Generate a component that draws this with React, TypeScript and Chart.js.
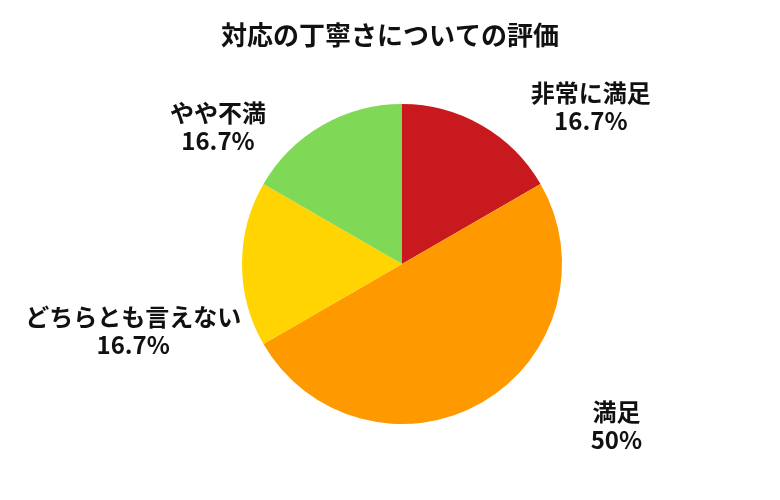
import { useEffect, useRef } from "react";
import { Chart, ArcElement, PieController, Tooltip } from "chart.js";
import type { Plugin } from "chart.js";

Chart.register(ArcElement, PieController, Tooltip);

// データ
const chartTitle = "対応の丁寧さについての評価";
const categories = ["非常に満足", "満足", "どちらとも言えない", "やや不満"];
const responses = [1, 3, 1, 1];
const sliceColors = ["#C8191F", "#FF9900", "#FFD400", "#7FD957"];

// ラベルの位置（円の中心からの相対値、半径単位）
const labelAnchors: [number, number][] = [
  [1.18, -0.98],
  [1.34, 1.01],
  [-1.68, 0.42],
  [-1.15, -0.86],
];

const FONT = '"Noto Sans CJK JP", "Noto Sans", sans-serif';

function formatPercent(v: number, total: number) {
  const p = (v / total) * 100;
  const s = p.toFixed(1);
  return (s.endsWith(".0") ? s.slice(0, -2) : s) + "%";
}

// タイトルと外側ラベルを描画
const outerLabels: Plugin<"pie"> = {
  id: "outerLabels",
  afterDraw(chart) {
    const { ctx } = chart;
    const meta = chart.getDatasetMeta(0);
    const values = chart.data.datasets[0].data as number[];
    const total = values.reduce((a, b) => a + b, 0);

    ctx.save();
    ctx.fillStyle = "#111";
    ctx.textAlign = "center";
    ctx.textBaseline = "middle";

    ctx.font = `bold 26px ${FONT}`;
    ctx.fillText(chartTitle, chart.width / 2, 35);

    ctx.font = `bold 24px ${FONT}`;
    meta.data.forEach((arc: any, i) => {
      const { x, y, outerRadius } = arc.getProps(["x", "y", "outerRadius"], true);
      const [ax, ay] = labelAnchors[i];
      const cx = x + ax * outerRadius;
      const cy = y + ay * outerRadius;
      ctx.fillText(String(chart.data.labels?.[i]), cx, cy - 14);
      ctx.fillText(formatPercent(values[i], total), cx, cy + 14);
    });
    ctx.restore();
  },
};

export default function App() {
  const chartRef = useRef<HTMLCanvasElement>(null);
  const chartInstance = useRef<Chart<"pie"> | null>(null);

  useEffect(() => {
    if (!chartRef.current) return;
    if (chartInstance.current) {
      chartInstance.current.destroy();
    }
    const ctx = chartRef.current.getContext("2d");
    if (!ctx) return;

    chartInstance.current = new Chart(ctx, {
      type: "pie",
      data: {
        labels: categories,
        datasets: [
          {
            data: responses,
            backgroundColor: sliceColors,
            borderWidth: 0,
          },
        ],
      },
      options: {
        responsive: true,
        maintainAspectRatio: false,
        animation: false,
        layout: {
          padding: { top: 104, bottom: 76, left: 242, right: 218 },
        },
        plugins: {
          legend: { display: false },
          tooltip: { enabled: false },
        },
      },
      plugins: [outerLabels],
    });

    return () => {
      if (chartInstance.current) {
        chartInstance.current.destroy();
        chartInstance.current = null;
      }
    };
  }, []);

  return (
    <div
      style={{
        position: "fixed",
        left: 0,
        top: 0,
        width: 780,
        height: 500,
        background: "#fff",
      }}
    >
      <canvas ref={chartRef} />
    </div>
  );
}
